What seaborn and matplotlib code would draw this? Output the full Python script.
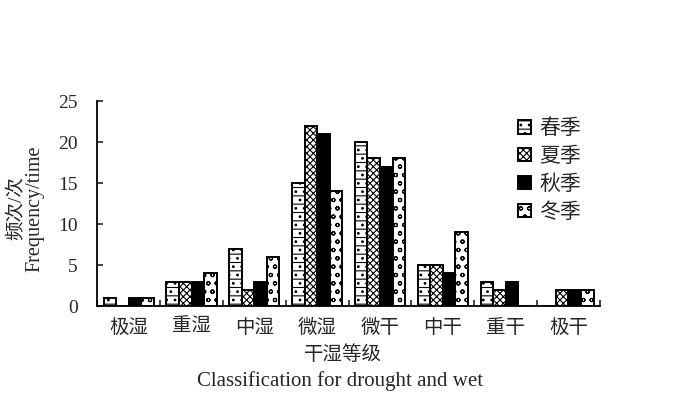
import matplotlib
matplotlib.use("Agg")
import matplotlib.pyplot as plt
import seaborn as sns
import pandas as pd
import numpy as np

categories = ["极湿", "重湿", "中湿", "微湿", "微干", "中干", "重干", "极干"]
seasons = ["春季", "夏季", "秋季", "冬季"]
spring = [1, 3, 7, 15, 20, 5, 3, 0]
summer = [0, 3, 2, 22, 18, 5, 2, 2]
autumn = [1, 3, 3, 21, 17, 4, 3, 2]
winter = [1, 4, 6, 14, 18, 9, 0, 2]
yticks = [0, 5, 10, 15, 20, 25]

sns.set_theme(style="white")
plt.rcParams['font.family'] = ['Liberation Serif', 'Noto Sans CJK SC']
plt.rcParams['hatch.linewidth'] = 0.8

rows = []
for s, vals in zip(seasons, [spring, summer, autumn, winter]):
    for c, v in zip(categories, vals):
        rows.append({"cat": c, "season": s, "val": v})
df = pd.DataFrame(rows)

fig = plt.figure(figsize=(7, 3.93), dpi=100)
ax = fig.add_axes([0.139, 0.221, 0.718, 0.522])
palette = {"春季": "white", "夏季": "white", "秋季": "black", "冬季": "white"}
sns.barplot(data=df, x="cat", y="val", hue="season", order=categories,
            hue_order=seasons, palette=palette, width=0.8, ax=ax,
            edgecolor="black", linewidth=1.4, saturation=1)
hatches = {"春季": "--..", "夏季": "xxxxx", "秋季": "", "冬季": "oo"}
for cont, s in zip(ax.containers, seasons):
    for p in cont:
        p.set_hatch(hatches[s])
        p.set_edgecolor("black")

ax.set_ylim(0, 25)
ax.set_xlim(-0.5, 7.5)
ax.set_yticks(yticks)
ax.set_yticklabels([str(t) for t in yticks], fontsize=14)
ax.set_xticks(range(len(categories)))
ax.set_xticklabels(categories, fontsize=14)
ax.set_xticks(np.arange(-0.5, 8, 1), minor=True)
ax.tick_params(axis='x', which='major', length=0, pad=9)
ax.tick_params(axis='x', which='minor', direction='in', length=4, width=1.2, bottom=True)
ax.tick_params(axis='y', which='major', direction='in', length=4, width=1.2, left=True, pad=14)
for sp in ["top", "right"]:
    ax.spines[sp].set_visible(False)
for sp in ["left", "bottom"]:
    ax.spines[sp].set_color("black")
    ax.spines[sp].set_linewidth(1.3)

ax.set_xlabel("")
ax.set_ylabel("")
fig.text(0.49, 0.097, "干湿等级", ha="center", va="center", fontsize=14)
fig.text(0.486, 0.03, "Classification for drought and wet", ha="center", va="center", fontsize=15)
fig.text(0.022, 0.47, "频次/次", rotation=90, ha="center", va="center", fontsize=14)
fig.text(0.05, 0.47, "Frequency/time", rotation=90, ha="center", va="center", fontsize=14.5)

handles, labels = ax.get_legend_handles_labels()
ax.get_legend().remove()
leg = ax.legend(handles, labels, loc="upper left", bbox_to_anchor=(0.8, 1.0),
                frameon=False, fontsize=15, handlelength=0.6, handleheight=0.6,
                handletextpad=0.4, labelspacing=0.4)
for h, s in zip(leg.legend_handles, seasons):
    h.set_hatch(hatches[s])
    h.set_edgecolor("black")

fig.savefig("out.png", dpi=100)
